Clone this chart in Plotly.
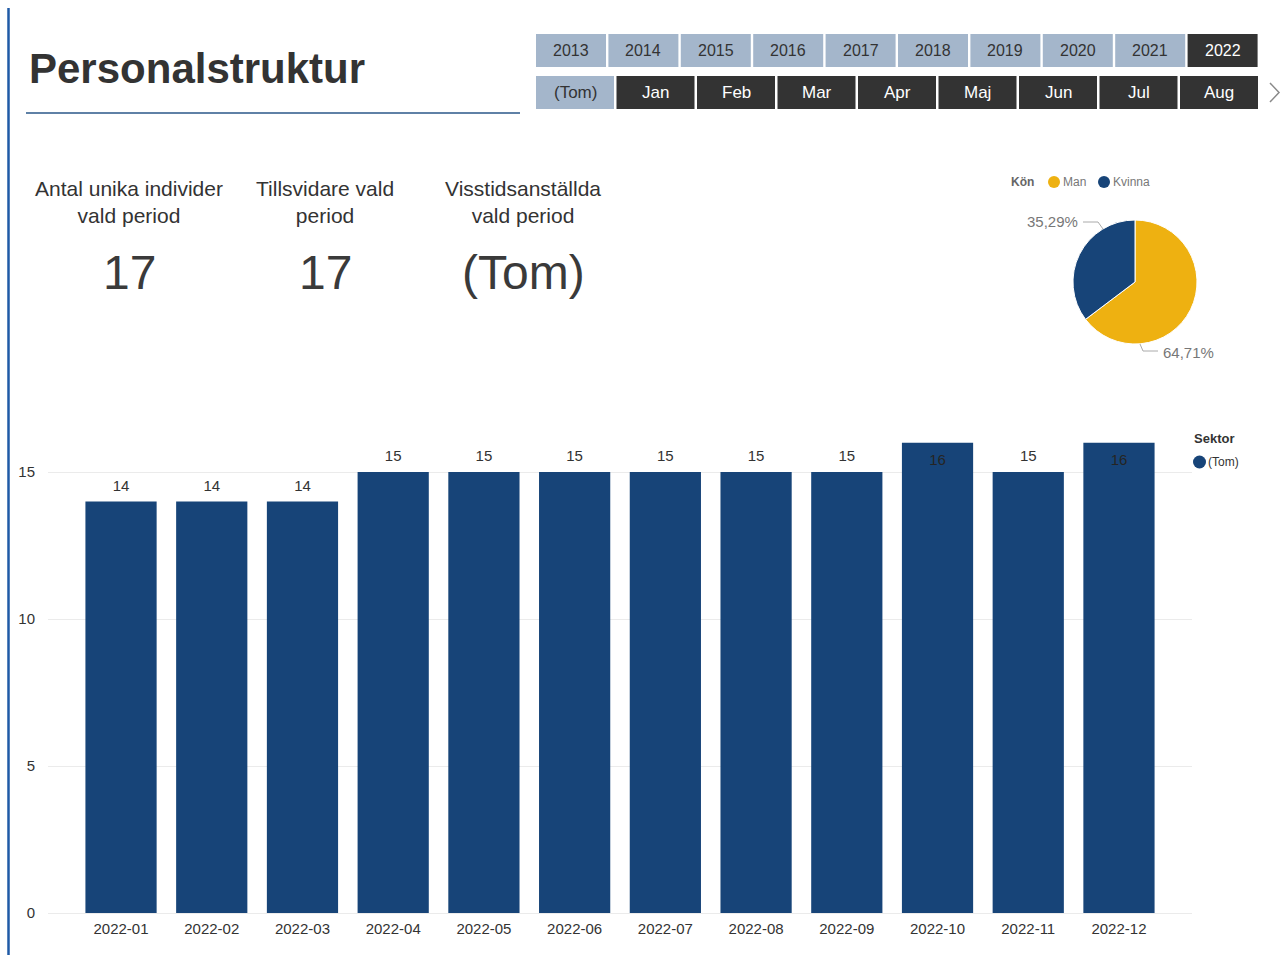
import plotly.graph_objects as go

W, H = 1285, 955

# ---- data -------------------------------------------------------------
years = ["2013", "2014", "2015", "2016", "2017", "2018", "2019", "2020", "2021", "2022"]
selected_years = ["2022"]
months = ["(Tom)", "Jan", "Feb", "Mar", "Apr", "Maj", "Jun", "Jul", "Aug"]
selected_months = ["Jan", "Feb", "Mar", "Apr", "Maj", "Jun", "Jul", "Aug"]

kpi_titles = ["Antal unika individer<br>vald period",
              "Tillsvidare vald<br>period",
              "Visstidsanställda<br>vald period"]
kpi_values = ["17", "17", "(Tom)"]

gender_labels = ["Man", "Kvinna"]
gender_counts = [11, 6]

periods = ["2022-01", "2022-02", "2022-03", "2022-04", "2022-05", "2022-06",
           "2022-07", "2022-08", "2022-09", "2022-10", "2022-11", "2022-12"]
headcount = [14, 14, 14, 15, 15, 15, 15, 15, 15, 16, 15, 16]
sector_name = "(Tom)"

# ---- styling ----------------------------------------------------------
NAVY = "#174478"
GOLD = "#EEB111"
SLICER_OFF = "#A4B6CB"
SLICER_ON = "#333333"
TEXT = "#333333"
FONT = "Liberation Sans, Arial, sans-serif"


def px(x):
    return x / W


def py(y):
    return 1 - y / H


shapes = []
annotations = []

# page accent line and title underline
shapes.append(dict(type="line", xref="paper", yref="paper",
                   x0=px(8.5), x1=px(8.5), y0=py(8), y1=py(955),
                   line=dict(color="#1F5AA6", width=2.5)))
shapes.append(dict(type="line", xref="paper", yref="paper",
                   x0=px(26), x1=px(520), y0=py(113), y1=py(113),
                   line=dict(color="#2A5788", width=1.5)))
annotations.append(dict(xref="paper", yref="paper", x=px(27), y=py(68),
                        text="<b>Personalstruktur</b>", showarrow=False,
                        xanchor="left", yanchor="middle",
                        font=dict(family=FONT, size=42, color=TEXT)))

# year slicer
for i, yr in enumerate(years):
    x0 = 536 + i * 72.4
    on = yr in selected_years
    shapes.append(dict(type="rect", xref="paper", yref="paper",
                       x0=px(x0), x1=px(x0 + 70), y0=py(67), y1=py(34),
                       fillcolor=SLICER_ON if on else SLICER_OFF, line=dict(width=0)))
    annotations.append(dict(xref="paper", yref="paper", x=px(x0 + 35), y=py(50.5),
                            text=yr, showarrow=False, xanchor="center", yanchor="middle",
                            font=dict(family=FONT, size=16,
                                      color="white" if on else TEXT)))

# month slicer
for i, mo in enumerate(months):
    x0 = 536 + i * 80.5
    on = mo in selected_months
    shapes.append(dict(type="rect", xref="paper", yref="paper",
                       x0=px(x0), x1=px(x0 + 78), y0=py(109), y1=py(76),
                       fillcolor=SLICER_ON if on else SLICER_OFF, line=dict(width=0)))
    annotations.append(dict(xref="paper", yref="paper", x=px(x0 + 39), y=py(92.5),
                            text=mo, showarrow=False, xanchor="center", yanchor="middle",
                            font=dict(family=FONT, size=17,
                                      color="white" if on else TEXT)))
shapes.append(dict(type="path", xref="paper", yref="paper",
                   path=f"M {px(1270)},{py(83)} L {px(1279)},{py(92.5)} L {px(1270)},{py(102)}",
                   line=dict(color="#8A8A8A", width=1.5)))

# KPI cards
for cx, title, val in zip([129, 325, 523], kpi_titles, kpi_values):
    annotations.append(dict(xref="paper", yref="paper", x=px(cx), y=py(202.5),
                            text=title, showarrow=False, xanchor="center", yanchor="middle",
                            font=dict(family=FONT, size=21, color=TEXT)))
    annotations.append(dict(xref="paper", yref="paper", x=px(cx), y=py(272),
                            text=val, showarrow=False, xanchor="center", yanchor="middle",
                            font=dict(family=FONT, size=48, color="#3A3A3A")))

# pie legend
annotations.append(dict(xref="paper", yref="paper", x=px(1009), y=py(182),
                        text="<b>Kön</b>", showarrow=False, xanchor="left", yanchor="middle",
                        font=dict(family=FONT, size=12, color="#666666")))
for lx, lab, col in [(1054, gender_labels[0], GOLD), (1104, gender_labels[1], NAVY)]:
    shapes.append(dict(type="circle", xref="paper", yref="paper",
                       x0=px(lx - 6), x1=px(lx + 6), y0=py(188), y1=py(176),
                       fillcolor=col, line=dict(width=0)))
    annotations.append(dict(xref="paper", yref="paper", x=px(lx + 7), y=py(182),
                            text=lab, showarrow=False, xanchor="left", yanchor="middle",
                            font=dict(family=FONT, size=12, color="#777777")))

# pie percentage labels with leader lines
total = sum(gender_counts)
pct = [f"{c / total * 100:.2f}".replace(".", ",") + "%" for c in gender_counts]
annotations.append(dict(xref="paper", yref="paper", x=px(1080), y=py(222),
                        text=pct[1], showarrow=False, xanchor="right", yanchor="middle",
                        font=dict(family=FONT, size=15, color="#777777")))
shapes.append(dict(type="path", xref="paper", yref="paper",
                   path=f"M {px(1083)},{py(222)} L {px(1098)},{py(222)} L {px(1103)},{py(229)}",
                   line=dict(color="#AAAAAA", width=1)))
annotations.append(dict(xref="paper", yref="paper", x=px(1161), y=py(352),
                        text=pct[0], showarrow=False, xanchor="left", yanchor="middle",
                        font=dict(family=FONT, size=15, color="#777777")))
shapes.append(dict(type="path", xref="paper", yref="paper",
                   path=f"M {px(1140)},{py(344)} L {px(1143)},{py(351)} L {px(1158)},{py(351)}",
                   line=dict(color="#AAAAAA", width=1)))

# bar legend
annotations.append(dict(xref="paper", yref="paper", x=px(1192), y=py(439),
                        text="<b>Sektor</b>", showarrow=False, xanchor="left", yanchor="middle",
                        font=dict(family=FONT, size=13, color=TEXT)))
shapes.append(dict(type="circle", xref="paper", yref="paper",
                   x0=px(1193), x1=px(1206), y0=py(468.5), y1=py(455.5),
                   fillcolor=NAVY, line=dict(width=0)))
annotations.append(dict(xref="paper", yref="paper", x=px(1206), y=py(462),
                        text=sector_name, showarrow=False, xanchor="left", yanchor="middle",
                        font=dict(family=FONT, size=12, color=TEXT)))

# ---- traces -----------------------------------------------------------
xs = list(range(len(periods)))
top = max(headcount)
label_inside = [v == top for v in headcount]

bar = go.Bar(
    x=xs, y=headcount,
    marker=dict(color=NAVY, line=dict(width=0)),
    width=0.785, showlegend=False, hoverinfo="x+y",
)

# value labels: above the bar, or tucked inside the top of the tallest bars
labels = go.Scatter(
    x=xs, y=headcount, mode="markers+text",
    text=[str(v) for v in headcount],
    textposition=["bottom center" if ins else "top center" for ins in label_inside],
    textfont=dict(family=FONT, size=15,
                  color=["#252423" if ins else TEXT for ins in label_inside]),
    marker=dict(size=[16.4 if ins else 9.4 for ins in label_inside],
                color="rgba(0,0,0,0)", line=dict(width=0)),
    cliponaxis=False, showlegend=False, hoverinfo="skip",
)

pie = go.Pie(
    labels=gender_labels, values=gender_counts,
    marker=dict(colors=[GOLD, NAVY], line=dict(color="white", width=1)),
    sort=False, direction="clockwise", rotation=0,
    textinfo="none", showlegend=False,
    domain=dict(x=[px(1073), px(1197)], y=[py(344), py(220)]),
)

fig = go.Figure([bar, labels, pie])

fig.update_layout(
    width=W, height=H + 8, margin=dict(l=0, r=0, t=0, b=0),
    paper_bgcolor="white", plot_bgcolor="white",
    font=dict(family=FONT, color=TEXT),
    shapes=shapes, annotations=annotations,
    xaxis=dict(domain=[px(48), px(1192)], range=[-0.805, len(periods) - 0.195],
               tickmode="array", tickvals=xs, ticktext=periods,
               showgrid=False, zeroline=False, showline=False, ticks="",
               ticklabelstandoff=5,
               tickfont=dict(family=FONT, size=15, color=TEXT), fixedrange=True),
    yaxis=dict(domain=[py(913), py(439.7)], range=[0, 16.1],
               tickvals=[0, 5, 10, 15], showgrid=True, gridcolor="#EBEBEB", gridwidth=1,
               zeroline=True, zerolinecolor="#EBEBEB", zerolinewidth=1,
               showline=False, ticks="", ticklabelstandoff=12,
               tickfont=dict(family=FONT, size=15, color=TEXT), fixedrange=True),
    bargap=0.2,
)

fig.write_html("out.html")
